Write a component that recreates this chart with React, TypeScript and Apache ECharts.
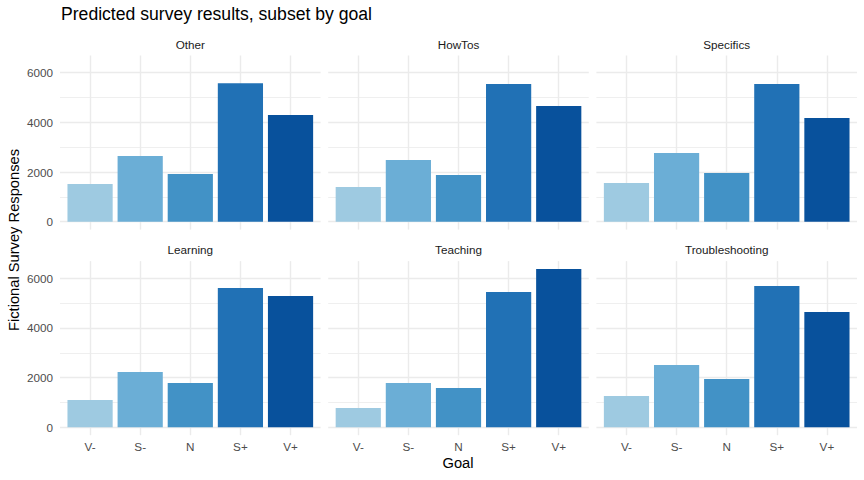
import React, { useEffect, useRef } from "react";
import * as echarts from "echarts";

const categories = ["V-", "S-", "N", "S+", "V+"];
const goals = ["Other", "HowTos", "Specifics", "Learning", "Teaching", "Troubleshooting"];
const otherValues = [1520, 2650, 1920, 5580, 4300];
const howTosValues = [1400, 2485, 1880, 5545, 4660];
const specificsValues = [1560, 2765, 1960, 5545, 4175];
const learningValues = [1100, 2225, 1785, 5610, 5285];
const teachingValues = [778, 1785, 1585, 5450, 6375];
const troubleshootingValues = [1260, 2510, 1945, 5690, 4645];
const yTickLabels = ["0", "2000", "4000", "6000"];

const allValues = [otherValues, howTosValues, specificsValues, learningValues, teachingValues, troubleshootingValues];
const barColors = ["#9ecae1", "#6baed6", "#4292c6", "#2171b5", "#08519c"];
const FONT = "Liberation Sans, Arial, sans-serif";

export default function App() {
  const ref = useRef<HTMLDivElement>(null);
  useEffect(() => {
    if (!ref.current) return;
    const chart = echarts.init(ref.current, undefined, { renderer: "svg" });
    const dataMax = Math.max(...allValues.flat());
    const yMax = dataMax * 1.05;
    const yMin = -dataMax * 0.05;
    const lefts = [60, 328.2, 596.4];
    const tops = [55.5, 261.1];
    const w = 260.6;
    const h = 174.1;
    const grids: any[] = [];
    const xAxes: any[] = [];
    const yAxes: any[] = [];
    const series: any[] = [];
    const graphics: any[] = [];
    goals.forEach((g, i) => {
      const col = i % 3;
      const row = Math.floor(i / 3);
      grids.push({ left: lefts[col], top: tops[row], width: w, height: h, containLabel: false });
      xAxes.push({
        type: "value",
        gridIndex: i,
        min: 0.4,
        max: 5.6,
        splitNumber: 5,
        axisLine: { show: false },
        axisTick: { show: false },
        axisLabel: {
          show: row === 1,
          margin: 5,
          color: "#4d4d4d",
          fontSize: 11.7,
          fontFamily: FONT,
          showMinLabel: false,
          showMaxLabel: false,
          formatter: (v: number) => (Number.isInteger(v) && v >= 1 && v <= 5 ? categories[v - 1] : ""),
        },
        splitLine: { show: true, showMinLine: false, showMaxLine: false, lineStyle: { color: "#ebebeb", width: 1.4 } },
      });
      yAxes.push({
        type: "value",
        gridIndex: i,
        min: yMin,
        max: yMax,
        splitNumber: 3,
        axisLine: { show: false },
        axisTick: { show: false },
        minorTick: { show: false, splitNumber: 2 },
        minorSplitLine: { show: true, lineStyle: { color: "#ebebeb", width: 0.8 } },
        axisLabel: {
          show: col === 0,
          margin: 7,
          color: "#4d4d4d",
          fontSize: 11.7,
          fontFamily: FONT,
          showMinLabel: false,
          showMaxLabel: false,
          formatter: (v: number) => (yTickLabels.includes(String(v)) ? String(v) : ""),
        },
        splitLine: { show: true, showMinLine: false, showMaxLine: false, lineStyle: { color: "#ebebeb", width: 1.4 } },
      });
      series.push({
        type: "bar",
        xAxisIndex: i,
        yAxisIndex: i,
        barWidth: 45.2,
        data: allValues[i].map((v, k) => ({ value: [k + 1, v], itemStyle: { color: barColors[k] } })),
      });
      graphics.push({
        type: "text",
        x: lefts[col] + w / 2,
        y: tops[row] - 11.5,
        style: { text: g, fill: "#1a1a1a", font: `11.7px ${FONT}`, textAlign: "center", textVerticalAlign: "middle" },
      });
    });
    graphics.push({
      type: "text",
      x: 61,
      y: 14,
      style: { text: "Predicted survey results, subset by goal", fill: "#000", font: `17.6px ${FONT}`, textAlign: "left", textVerticalAlign: "middle" },
    });
    graphics.push({
      type: "text",
      x: 458,
      y: 463,
      style: { text: "Goal", fill: "#000", font: `14.7px ${FONT}`, textAlign: "center", textVerticalAlign: "middle" },
    });
    graphics.push({
      type: "text",
      x: 14,
      y: 240,
      rotation: Math.PI / 2,
      style: { text: "Fictional Survey Responses", fill: "#000", font: `14.7px ${FONT}`, textAlign: "center", textVerticalAlign: "middle" },
    });
    chart.setOption({
      animation: false,
      backgroundColor: "#ffffff",
      grid: grids,
      xAxis: xAxes,
      yAxis: yAxes,
      series,
      graphic: graphics,
    });
    return () => chart.dispose();
  }, []);
  return <div ref={ref} style={{ position: "fixed", left: 0, top: 0, width: 864, height: 480 }} />;
}
